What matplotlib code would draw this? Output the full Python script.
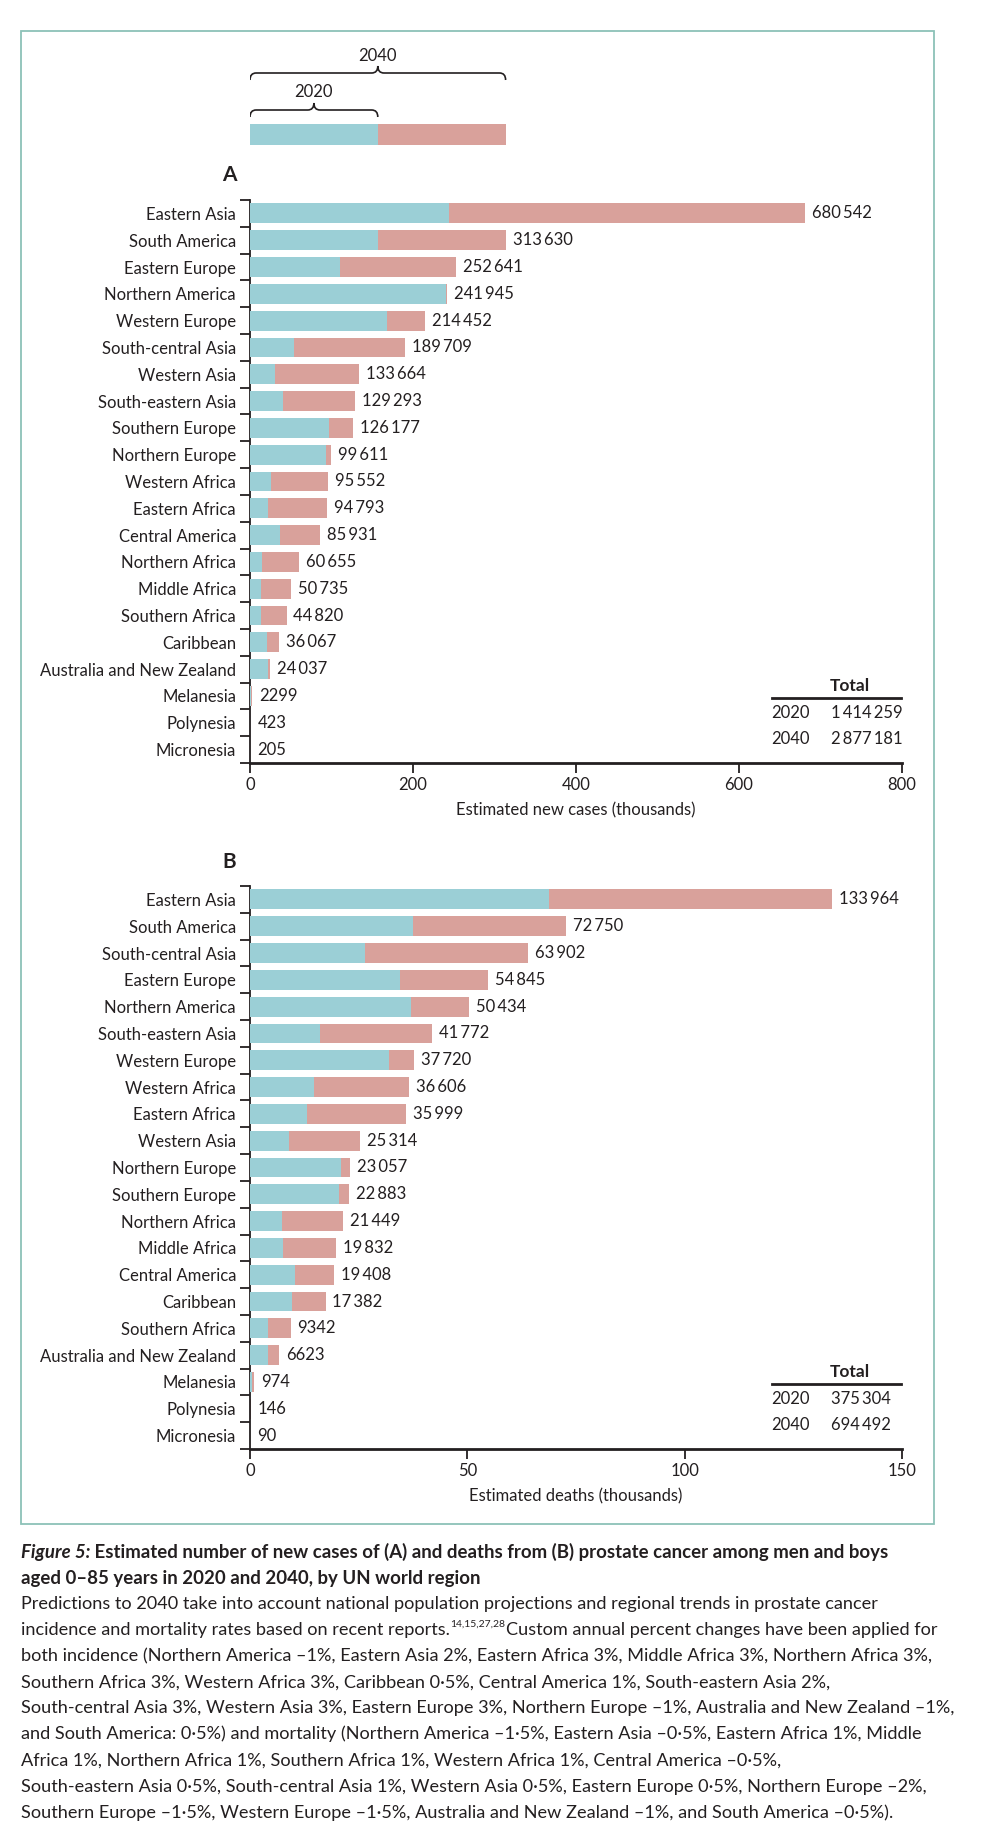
import matplotlib
matplotlib.use("Agg")
import matplotlib.pyplot as plt
from matplotlib.path import Path
from matplotlib.patches import PathPatch, Rectangle

plt.rcParams['font.family'] = ['Lato', 'DejaVu Sans']
plt.rcParams['font.size'] = 12

# ---- data (thousands for 2020 estimates, exact counts for 2040 labels) ----
regions_a = ["Eastern Asia", "South America", "Eastern Europe", "Northern America",
             "Western Europe", "South-central Asia", "Western Asia", "South-eastern Asia",
             "Southern Europe", "Northern Europe", "Western Africa", "Eastern Africa",
             "Central America", "Northern Africa", "Middle Africa", "Southern Africa",
             "Caribbean", "Australia and New Zealand", "Melanesia", "Polynesia", "Micronesia"]
cases_2020 = [243.7, 156.8, 111.0, 240.6, 168.4, 54.3, 30.3, 41.1, 97.0, 93.1, 25.6,
              22.5, 36.5, 14.7, 14.0, 14.0, 21.0, 21.7, 1.1, 0.25, 0.12]
cases_2040 = [680542, 313630, 252641, 241945, 214452, 189709, 133664, 129293, 126177,
              99611, 95552, 94793, 85931, 60655, 50735, 44820, 36067, 24037, 2299, 423, 205]

regions_b = ["Eastern Asia", "South America", "South-central Asia", "Eastern Europe",
             "Northern America", "South-eastern Asia", "Western Europe", "Western Africa",
             "Eastern Africa", "Western Asia", "Northern Europe", "Southern Europe",
             "Northern Africa", "Middle Africa", "Central America", "Caribbean",
             "Southern Africa", "Australia and New Zealand", "Melanesia", "Polynesia", "Micronesia"]
deaths_2020 = [68.8, 37.4, 26.5, 34.6, 37.1, 16.2, 31.9, 14.8, 13.1, 8.9, 21.0, 20.4,
               7.3, 7.6, 10.3, 9.7, 4.2, 4.2, 0.5, 0.08, 0.05]
deaths_2040 = [133964, 72750, 63902, 54845, 50434, 41772, 37720, 36606, 35999, 25314,
               23057, 22883, 21449, 19832, 19408, 17382, 9342, 6623, 974, 146, 90]

total_years = ["2020", "2040"]
total_cases = [1414259, 2877181]
total_deaths = [375304, 694492]

C20 = "#9bcfd6"
C40 = "#d9a19b"
INK = "#231f20"
W, H = 991, 1846


def fmt(n):
    s = str(n)
    if len(s) <= 4:
        return s
    parts = []
    while len(s) > 3:
        parts.insert(0, s[-3:])
        s = s[:-3]
    parts.insert(0, s)
    return "\u2009".join(parts)


def px_axes(fig, left, top, right, bottom):
    return fig.add_axes([left / W, 1 - bottom / H, (right - left) / W, (bottom - top) / H])


def fig_text(x, y, s, **kw):
    return fig.text(x / W, 1 - y / H, s, color=INK, **kw)


fig = plt.figure(figsize=(W / 100, H / 100), dpi=100)

# outer frame
fig.patches.append(Rectangle((21 / W, 1 - 1524 / H), (934 - 21) / W, (1524 - 31) / H,
                             transform=fig.transFigure, fill=False, edgecolor="#8cc2b8", lw=1.3))


def panel(ax, names, v20, v40, xmax, step, xlabel):
    y = list(range(len(names)))
    v40k = [v / 1000 for v in v40]
    ax.barh(y, v20, height=0.74, color=C20, zorder=3)
    ax.barh(y, [b - a for a, b in zip(v20, v40k)], left=v20, height=0.74, color=C40, zorder=2)
    for yi, val, raw in zip(y, v40k, v40):
        ax.annotate(fmt(raw), (val, yi), xytext=(5, 0), textcoords="offset points",
                    va="center", ha="left", fontsize=12, color=INK)
    ax.set_ylim(len(names) - 0.5, -0.5)
    ax.set_xlim(0, xmax)
    ax.set_yticks(y)
    ax.set_yticklabels(names)
    ax.set_yticks([i - 0.5 for i in range(len(names) + 1)], minor=True)
    ax.set_xticks(range(0, xmax + 1, step))
    ax.tick_params(axis="y", which="major", length=0, pad=10, labelsize=12, labelcolor=INK)
    ax.tick_params(axis="y", which="minor", length=7, width=1.3, color=INK)
    ax.tick_params(axis="x", length=7, width=1.3, pad=3, labelsize=12, labelcolor=INK, color=INK)
    for s in ["top", "right"]:
        ax.spines[s].set_visible(False)
    ax.spines["left"].set_linewidth(1.3)
    ax.spines["bottom"].set_linewidth(2.0)
    ax.spines["left"].set_color(INK)
    ax.spines["bottom"].set_color(INK)
    ax.set_xlabel(xlabel, fontsize=12, color=INK, labelpad=7)
    ax.set_facecolor("none")


ax_a = px_axes(fig, 250, 200, 902, 763)
panel(ax_a, regions_a, cases_2020, cases_2040, 800, 200, "Estimated new cases (thousands)")
ax_b = px_axes(fig, 250, 886, 902, 1449)
panel(ax_b, regions_b, deaths_2020, deaths_2040, 150, 50, "Estimated deaths (thousands)")

fig_text(229, 175, "A", fontsize=15, fontweight="bold", ha="center", va="center")
fig_text(229, 862, "B", fontsize=15, fontweight="bold", ha="center", va="center")

# key bar with braces (uses South America row of panel A)
key = regions_a.index("South America")
k20 = cases_2020[key]
k40 = cases_2040[key] / 1000
ax_k = px_axes(fig, 250, 40, 902, 150)
ax_k.set_xlim(0, 800)
ax_k.set_ylim(150, 40)
ax_k.axis("off")
ax_k.barh([134.5], [k20], height=21, color=C20)
ax_k.barh([134.5], [k40 - k20], left=[k20], height=21, color=C40)
r = 7.5


def brace(x0, x1, yl, h, label, ly):
    xm = (x0 + x1) / 2
    verts = [(x0, yl + h), (x0, yl), (x0 + r, yl),
             (xm - r, yl), (xm, yl), (xm, yl - h),
             (xm, yl), (xm + r, yl),
             (x1 - r, yl), (x1, yl), (x1, yl + h)]
    codes = [Path.MOVETO, Path.CURVE3, Path.CURVE3,
             Path.LINETO, Path.CURVE3, Path.CURVE3,
             Path.CURVE3, Path.CURVE3,
             Path.LINETO, Path.CURVE3, Path.CURVE3]
    ax_k.add_patch(PathPatch(Path(verts, codes), fill=False, lw=1.2, edgecolor=INK))
    ax_k.text(xm, ly, label, ha="center", va="center", fontsize=12, color=INK)


brace(0, k20, 110, 7, "2020", 92)
brace(0, k40, 73, 7, "2040", 56)

# totals tables
for top, vals in [(686, total_cases), (1372, total_deaths)]:
    fig_text(850, top, "Total", fontsize=12.5, fontweight="bold", ha="center", va="center")
    fig.add_artist(plt.Line2D([772 / W, 901 / W], [1 - (top + 12) / H] * 2, color=INK, lw=2))
    for i, (yr, v) in enumerate(zip(total_years, vals)):
        yy = top + 27 + i * 26.5
        fig_text(790, yy, yr, fontsize=12, ha="center", va="center")
        fig_text(831, yy, fmt(v), fontsize=12, ha="left", va="center")

# caption
renderer = fig.canvas.get_renderer()


def line_pieces(x, y, pieces):
    for s, kw in pieces:
        t = fig_text(x, y, s, ha="left", va="baseline", **kw)
        bb = t.get_window_extent(renderer)
        x += bb.width


base = dict(fontsize=13.1)
bold = dict(fontsize=13.4, fontweight="bold")
line_pieces(21, 1558, [("Figure 5:", dict(fontsize=13.4, fontweight="bold", fontstyle="italic")),
                       (" Estimated number of new cases of (A) and deaths from (B) prostate cancer among men and boys", bold)])
line_pieces(21, 1584, [("aged 0\u201385 years in 2020 and 2040, by UN world region", bold)])

body = [
    "Predictions to 2040 take into account national population projections and regional trends in prostate cancer",
    None,
    "both incidence (Northern America \u20131%, Eastern Asia 2%, Eastern Africa 3%, Middle Africa 3%, Northern Africa 3%,",
    "Southern Africa 3%, Western Africa 3%, Caribbean 0\u00b75%, Central America 1%, South-eastern Asia 2%,",
    "South-central Asia 3%, Western Asia 3%, Eastern Europe 3%, Northern Europe \u20131%, Australia and New Zealand \u20131%,",
    "and South America: 0\u00b75%) and mortality (Northern America \u20131\u00b75%, Eastern Asia \u20130\u00b75%, Eastern Africa 1%, Middle",
    "Africa 1%, Northern Africa 1%, Southern Africa 1%, Western Africa 1%, Central America \u20130\u00b75%,",
    "South-eastern Asia 0\u00b75%, South-central Asia 1%, Western Asia 0\u00b75%, Eastern Europe 0\u00b75%, Northern Europe \u20132%,",
    "Southern Europe \u20131\u00b75%, Western Europe \u20131\u00b75%, Australia and New Zealand \u20131%, and South America \u20130\u00b75%).",
]
for i, s in enumerate(body):
    yb = 1609 + i * 26.1
    if s is None:
        t = fig_text(21, yb, "incidence and mortality rates based on recent reports.", ha="left", va="baseline", **base)
        x = 21 + t.get_window_extent(renderer).width
        t2 = fig_text(x, yb - 8, "14,15,27,28", ha="left", va="baseline", fontsize=7.5)
        x += t2.get_window_extent(renderer).width + 1
        fig_text(x, yb, "Custom annual percent changes have been applied for", ha="left", va="baseline", **base)
    else:
        fig_text(21, yb, s, ha="left", va="baseline", **base)

fig.savefig("out.png", dpi=100, facecolor="white")
